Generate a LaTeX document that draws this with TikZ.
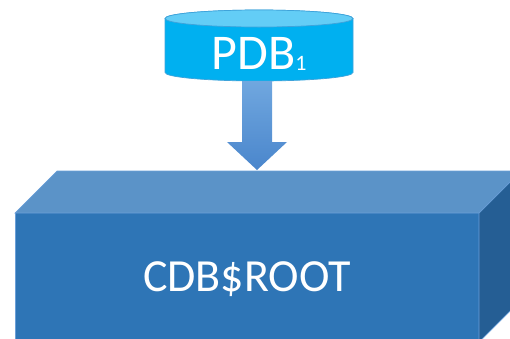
\documentclass[tikz,border=0pt]{standalone}
\usepackage{fontspec}
\setmainfont{Carlito}
\usetikzlibrary{calc}
\definecolor{frontblue}{HTML}{2E75B6}
\definecolor{topblue}{HTML}{5B93C8}
\definecolor{sideblue}{HTML}{255E94}
\definecolor{edgeblue}{HTML}{6A9FD8}
\definecolor{cylbody}{HTML}{00B0F0}
\definecolor{cyltop}{HTML}{63CDF6}
\definecolor{cyledge}{HTML}{3FA3DA}
\definecolor{arrowtop}{HTML}{70A7DF}
\definecolor{arrowbot}{HTML}{4A86CC}
\tikzset{
  face/.style={draw=edgeblue, line width=0.7pt, line join=miter},
  cylface/.style={draw=cyledge, line width=0.7pt},
  label/.style={text=white, inner sep=0pt, anchor=center},
}
\begin{document}
\begin{tikzpicture}[x=1pt, y=-1pt]
  \useasboundingbox (0,0) rectangle (510,338);
  \clip (0,0) rectangle (510,338);

  % block: front, top and right faces
  \coordinate (fl) at (15,213);
  \coordinate (fr) at (479,213);
  \coordinate (bl) at (15,342);
  \coordinate (br) at (479,342);
  \coordinate (d) at (42,-42);
  \fill[frontblue] (fl) rectangle (br);
  \draw[face, fill=topblue] (fl) -- ($(fl)+(d)$) -- ($(fr)+(d)$) -- (fr) -- cycle;
  \draw[face, fill=sideblue] (fr) -- ($(fr)+(d)$) -- ($(br)+(d)$) -- (br) -- cycle;
  \draw[face] (fl) -- (bl);
  \node[label, font=\fontsize{46}{46}\selectfont] (root) at (247,279) {CDB\$ROOT};

  % database cylinder
  \coordinate (ctop) at (259,18.5);
  \coordinate (cbot) at (259,72.5);
  \draw[cylface, fill=cylbody]
    (165,18.5) -- (165,72.5) arc[start angle=180, end angle=360, x radius=94, y radius=-8.5]
    -- (353,18.5) arc[start angle=0, end angle=180, x radius=94, y radius=-8.5] -- cycle;
  \draw[cylface, fill=cyltop] (ctop) ellipse[x radius=94, y radius=8.5];
  \node[label, font=\fontsize{50}{50}\selectfont] (pdb) at (259,54)
    {PDB\raisebox{-1pt}{\fontsize{22}{22}\selectfont 1}};

  % arrow from the database down onto the block
  \coordinate (tip) at (257,170);
  \shade[top color=arrowtop, bottom color=arrowbot]
    (242,81) -- (272,81) -- (272,142) -- (287,142) -- (tip) -- (227,142) -- (242,142) -- cycle;
\end{tikzpicture}
\end{document}
